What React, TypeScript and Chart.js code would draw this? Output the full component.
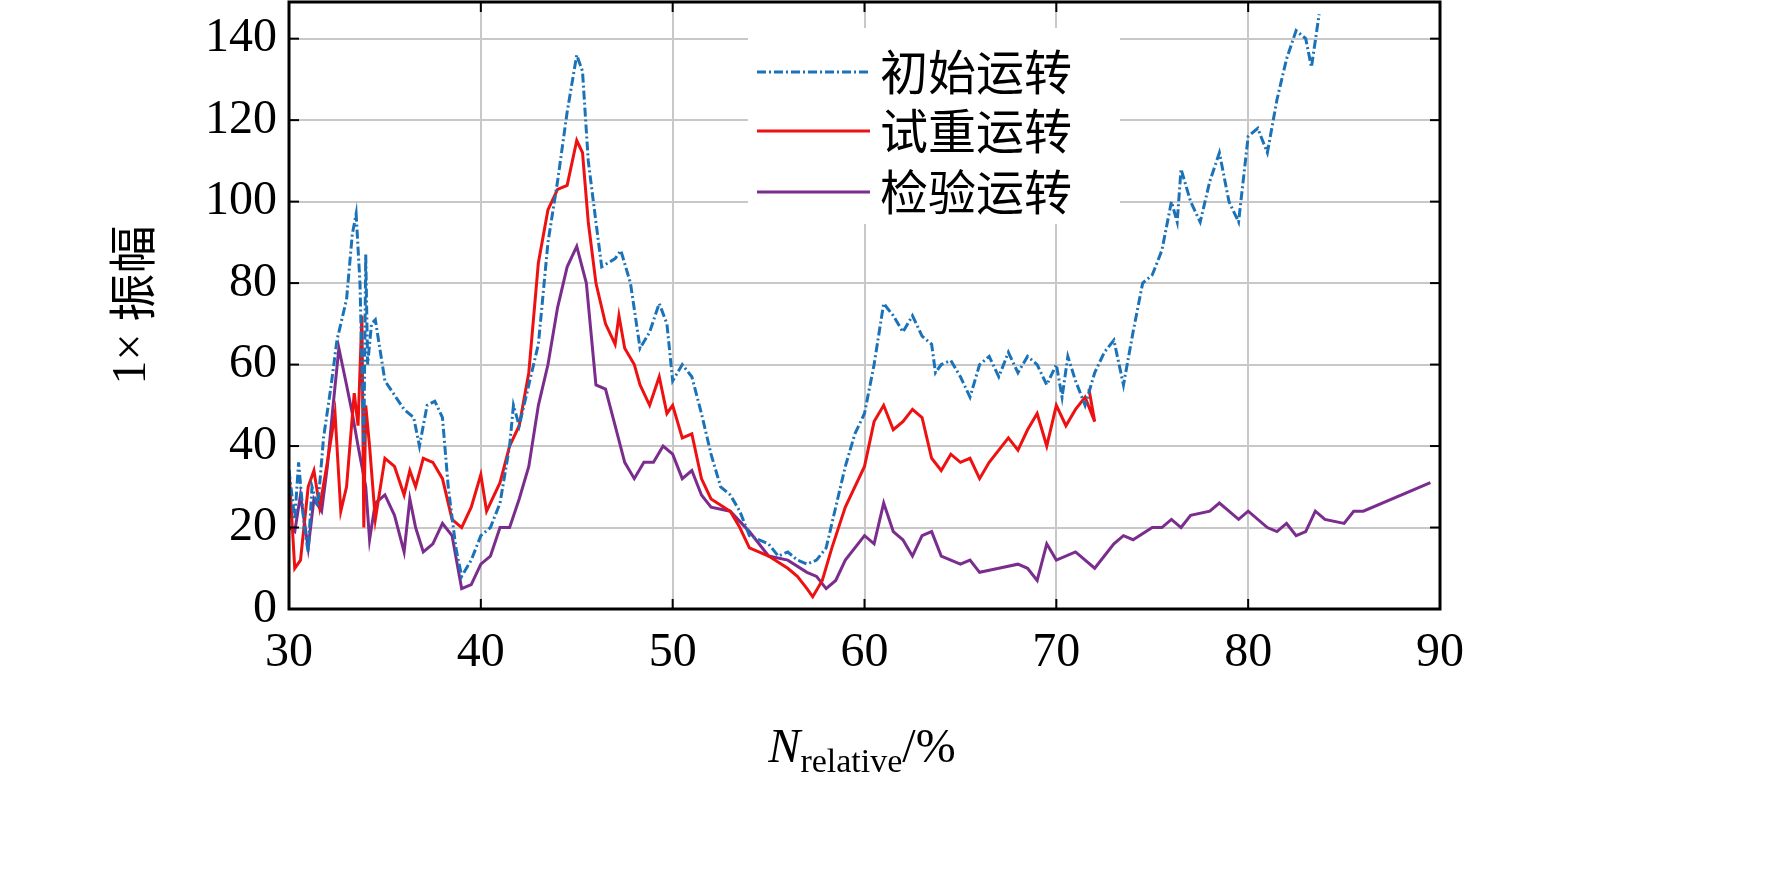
import React, { useEffect, useRef } from "react";
import { Chart, registerables } from "chart.js";
Chart.register(...registerables);

const xTicks = [30, 40, 50, 60, 70, 80, 90];
const yTicks = [0, 20, 40, 60, 80, 100, 120, 140];
const seriesNames = ["初始运转", "试重运转", "检验运转"];

const initialX = [30,30.3,30.5,30.8,31,31.2,31.5,31.8,32.2,32.5,33,33.3,33.5,33.7,33.9,34,34.1,34.3,34.5,35,36,36.5,36.8,37.2,37.6,38,38.3,38.7,39,39.5,40,40.5,41,41.5,41.7,42,42.5,43,43.5,44,44.5,45,45.3,45.6,46,46.3,47,47.3,47.8,48.3,48.8,49.3,49.7,50,50.5,51,51.5,52,52.5,53,53.5,54,55,55.5,56,56.5,57,57.5,58,58.5,59,59.5,60,60.5,61,61.5,62,62.5,63,63.5,63.7,64,64.5,65,65.5,66,66.5,67,67.5,68,68.5,69,69.5,70,70.3,70.6,71,71.5,72,72.5,73,73.5,74,74.5,75,75.5,76,76.3,76.5,77,77.5,78,78.5,79,79.5,80,80.5,81,81.5,82,82.5,83,83.3,83.7];
const initialY = [34,22,36,20,14,30,25,42,55,66,76,92,97,80,40,87,60,70,71,56,49,47,40,50,51,47,30,15,8,12,18,20,26,40,50,45,55,65,90,105,122,136,132,110,95,84,86,88,80,64,68,75,70,56,60,57,48,38,30,28,24,18,16,13,14,12,11,12,15,25,35,43,48,60,75,72,68,72,67,65,58,60,61,57,52,60,62,57,63,58,62,60,55,60,52,62,56,50,58,63,66,55,68,80,82,88,100,95,108,100,95,105,112,100,95,116,118,112,125,135,142,140,133,146];

const trialX = [30,30.3,30.6,31,31.3,31.6,32,32.4,32.7,33,33.4,33.6,33.8,33.9,34,34.2,34.5,35,35.5,36,36.3,36.6,37,37.5,38,38.5,39,39.5,40,40.3,41,41.5,42,42.5,43,43.5,44,44.5,45,45.3,45.6,46,46.5,47,47.2,47.5,48,48.3,48.8,49.3,49.7,50,50.5,51,51.5,52,53,53.5,54,55,56,56.5,57,57.3,57.8,58.3,59,60,60.5,61,61.5,62,62.5,63,63.5,64,64.5,65,65.5,66,66.5,67,67.5,68,68.5,69,69.5,70,70.5,71,71.5,72,71.7];
const trialY = [34,10,12,30,34,25,36,48,24,30,53,45,72,20,50,40,22,37,35,28,34,30,37,36,32,22,20,25,33,24,31,40,45,58,85,98,103,104,115,112,95,80,70,65,72,64,60,55,50,57,48,50,42,43,32,27,24,20,15,13,10,8,5,3,7,15,25,35,46,50,44,46,49,47,37,34,38,36,37,32,36,39,42,39,44,48,40,50,45,49,52,46,54];

const checkX = [30,30.3,30.6,31,31.3,31.7,32,32.3,32.6,33,33.3,33.6,34,34.2,34.5,35,35.5,36,36.3,36.6,37,37.5,38,38.5,39,39.5,40,40.5,41,41.5,42,42.5,43,43.5,44,44.5,45,45.5,46,46.5,47,47.5,48,48.5,49,49.5,50,50.5,51,51.5,52,53,54,55,56,57,57.5,58,58.5,59,60,60.5,61,61.5,62,62.5,63,63.5,64,65,65.5,66,67,68,68.5,69,69.5,70,71,72,73,73.5,74,75,75.5,76,76.5,77,78,78.5,79,79.5,80,81,81.5,82,82.5,83,83.5,84,85,85.5,86,89.5];
const checkY = [20,19,28,15,27,24,35,50,64,55,48,40,30,17,26,28,23,14,27,20,14,16,21,18,5,6,11,13,20,20,27,35,50,60,74,84,89,80,55,54,45,36,32,36,36,40,38,32,34,28,25,24,19,13,12,9,8,5,7,12,18,16,26,19,17,13,18,19,13,11,12,9,10,11,10,7,16,12,14,10,16,18,17,20,20,22,20,23,24,26,24,22,24,20,19,21,18,19,24,22,21,24,24,31];

const colors = ["#1a72b8", "#ee1111", "#7b2d8e"];
const dashes = [[9, 3, 2, 3], [], []];

const toPts = (xs: number[], ys: number[]) => xs.map((x, i) => ({ x, y: ys[i] }));
const FONT = "'Liberation Serif', 'Times New Roman', serif";
const CJK = "'Noto Sans CJK SC'";

export default function App() {
  const ref = useRef<HTMLCanvasElement>(null);
  useEffect(() => {
    document.body.style.margin = "0";
    const overlay = {
      id: "overlay",
      afterDraw(chart: any) {
        const { ctx, chartArea: a, scales } = chart;
        const sx = scales.x, sy = scales.y;
        ctx.save();
        // legend
        ctx.fillStyle = "#fff";
        ctx.fillRect(748, 28, 372, 196);
        const ly = [72, 131, 192];
        seriesNames.forEach((n, i) => {
          ctx.strokeStyle = colors[i];
          ctx.lineWidth = 3;
          ctx.setLineDash(dashes[i]);
          ctx.beginPath(); ctx.moveTo(757, ly[i]); ctx.lineTo(870, ly[i]); ctx.stroke();
          ctx.setLineDash([]);
          ctx.fillStyle = "#000";
          ctx.font = `48px ${CJK}`;
          ctx.textBaseline = "middle";
          ctx.textAlign = "left";
          ctx.fillText(n, 880, ly[i]);
        });
        ctx.strokeStyle = "#000";
        ctx.lineWidth = 2;
        xTicks.forEach((v) => {
          const px = sx.getPixelForValue(v);
          ctx.beginPath(); ctx.moveTo(px, a.bottom); ctx.lineTo(px, a.bottom - 10); ctx.stroke();
          ctx.beginPath(); ctx.moveTo(px, a.top); ctx.lineTo(px, a.top + 10); ctx.stroke();
        });
        yTicks.forEach((v) => {
          const py = sy.getPixelForValue(v);
          ctx.beginPath(); ctx.moveTo(a.left, py); ctx.lineTo(a.left + 10, py); ctx.stroke();
          ctx.beginPath(); ctx.moveTo(a.right, py); ctx.lineTo(a.right - 10, py); ctx.stroke();
        });
        ctx.lineWidth = 3;
        ctx.strokeRect(a.left, a.top, a.right - a.left, a.bottom - a.top);
        // y title
        ctx.save();
        ctx.translate(132, 305);
        ctx.rotate(-Math.PI / 2);
        ctx.textBaseline = "middle";
        ctx.font = `48px ${CJK}`;
        const w2 = ctx.measureText("振幅").width;
        ctx.font = `48px ${FONT}`;
        const p1 = "1× ";
        const w1 = ctx.measureText(p1).width;
        const start = -(w1 + w2) / 2;
        ctx.textAlign = "left";
        ctx.fillStyle = "#000";
        ctx.fillText(p1, start, 0);
        ctx.font = `48px ${CJK}`;
        ctx.fillText("振幅", start + w1, 0);
        ctx.restore();
        // x title
        ctx.fillStyle = "#000";
        ctx.textBaseline = "alphabetic";
        ctx.textAlign = "left";
        ctx.font = `italic 48px ${FONT}`;
        const wN = ctx.measureText("N").width;
        ctx.font = `34px ${FONT}`;
        const wR = ctx.measureText("relative").width;
        ctx.font = `48px ${FONT}`;
        const wP = ctx.measureText("/%").width;
        let x0 = 862 - (wN + wR + wP) / 2;
        const base = 762;
        ctx.font = `italic 48px ${FONT}`;
        ctx.fillText("N", x0, base); x0 += wN;
        ctx.font = `34px ${FONT}`;
        ctx.fillText("relative", x0, base + 10); x0 += wR;
        ctx.font = `48px ${FONT}`;
        ctx.fillText("/%", x0, base);
        ctx.restore();
      },
    };
    const chart = new Chart(ref.current!, {
      type: "line",
      data: {
        datasets: [
          { label: seriesNames[0], data: toPts(initialX, initialY) },
          { label: seriesNames[1], data: toPts(trialX, trialY) },
          { label: seriesNames[2], data: toPts(checkX, checkY) },
        ].map((d, i) => ({
          ...d,
          borderColor: colors[i],
          borderWidth: 3,
          borderDash: dashes[i],
          pointRadius: 0,
          fill: false,
          tension: 0,
        })),
      },
      options: {
        animation: false,
        responsive: false,
        devicePixelRatio: 1,
        layout: { padding: { left: 0, right: 332, top: 2, bottom: 0 } },
        plugins: { legend: { display: false }, tooltip: { enabled: false } },
        scales: {
          x: {
            type: "linear", min: 30, max: 90,
            afterBuildTicks: (s: any) => { s.ticks = xTicks.map((v) => ({ value: v })); },
            afterFit: (s: any) => { s.height = 886 - 609; s.paddingLeft = 0; s.paddingRight = 0; },
            grid: { color: "#c8c8c8", lineWidth: 2, drawTicks: false },
            border: { display: false },
            ticks: { color: "#000", font: { family: FONT, size: 48 }, padding: 16, maxRotation: 0 },
          },
          y: {
            min: 0, max: 149,
            afterBuildTicks: (s: any) => { s.ticks = yTicks.map((v) => ({ value: v })); },
            afterFit: (s: any) => { s.width = 289; s.paddingTop = 0; s.paddingBottom = 0; },
            grid: { color: "#c8c8c8", lineWidth: 2, drawTicks: false },
            border: { display: false },
            ticks: { color: "#000", font: { family: FONT, size: 48 }, padding: 12 },
          },
        },
      },
      plugins: [overlay],
    } as any);
    return () => chart.destroy();
  }, []);
  return (
    <div style={{ width: 1772, height: 886, background: "#fff" }}>
      <canvas ref={ref} width={1772} height={886} style={{ display: "block" }} />
    </div>
  );
}
